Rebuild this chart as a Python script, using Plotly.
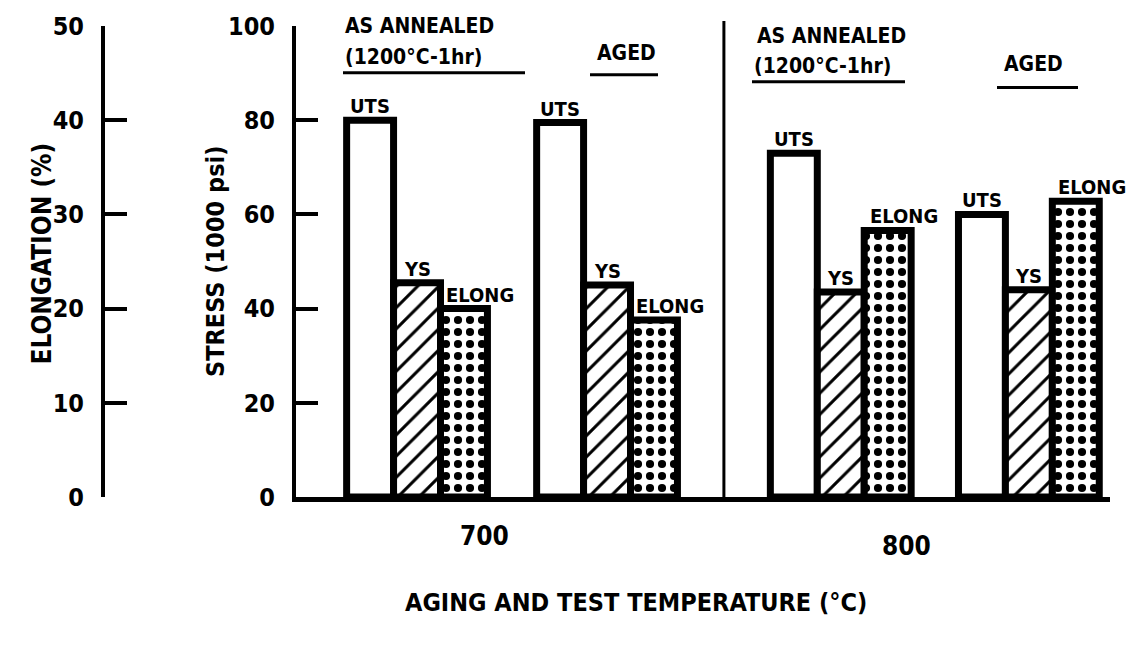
import plotly.graph_objects as go

# ---- data -------------------------------------------------------------
GROUPS = ["700 as annealed", "700 aged", "800 as annealed", "800 aged"]
TEMPS = ["700", "800"]
UTS = [80, 79.5, 73, 60]          # ultimate tensile strength, 1000 psi
YS = [45.5, 45, 43.5, 44]         # yield strength, 1000 psi
ELONG = [20, 18.8, 28.3, 31.4]    # elongation, %
STRESS_TICKS = [0, 20, 40, 60, 80, 100]
ELONG_TICKS = [0, 10, 20, 30, 40, 50]

# ---- layout constants ------------------------------------------------
GROUP_POS = [0.0, 1.0, 2.23, 3.22]   # slot of each group along the temperature axis
BW = 0.247                           # bar width in axis units
W, H = 1127, 650
ML, MR, MT, MB = 100, 17, 23, 153
FONT = "DejaVu Sans Condensed, Liberation Sans Narrow, sans-serif"


def px_x(px):
    return (px - ML) / (W - ML - MR)


def px_y(py):
    return (H - MB - py) / (H - MT - MB)


bar_line = dict(color="black", width=7)
fig = go.Figure()
fig.add_trace(go.Bar(
    x=GROUP_POS, y=UTS, width=BW, offset=-1.5 * BW, name="UTS",
    marker=dict(color="white", line=bar_line, opacity=1), yaxis="y"))
fig.add_trace(go.Bar(
    x=GROUP_POS, y=YS, width=BW, offset=-0.5 * BW, name="YS",
    marker=dict(color="white", line=bar_line, opacity=1,
                pattern=dict(shape="/", fgcolor="black", bgcolor="white",
                             fgopacity=1, size=15, solidity=0.2)),
    yaxis="y"))
fig.add_trace(go.Bar(
    x=GROUP_POS, y=ELONG, width=BW, offset=0.5 * BW, name="ELONG",
    marker=dict(color="white", line=bar_line, opacity=1,
                pattern=dict(shape=".", fgcolor="black", bgcolor="white",
                             fgopacity=1, size=12, solidity=0.36)),
    yaxis="y2"))

annotations = []
# labels over every bar
for i, gp in enumerate(GROUP_POS):
    annotations.append(dict(x=gp - BW, y=UTS[i], xref="x", yref="y", text="UTS",
                            yanchor="bottom", showarrow=False, yshift=0,
                            font=dict(size=20)))
    annotations.append(dict(x=gp, y=YS[i], xref="x", yref="y", text="YS",
                            yanchor="bottom", showarrow=False, yshift=0,
                            font=dict(size=20)))
    annotations.append(dict(x=gp + BW, y=ELONG[i], xref="x", yref="y2", text="ELONG",
                            yanchor="bottom", showarrow=False, yshift=0, xshift=16,
                            font=dict(size=20)))

# temperature labels under each pair of groups
for k, t in enumerate(TEMPS):
    mid = (GROUP_POS[2 * k] + GROUP_POS[2 * k + 1]) / 2
    annotations.append(dict(x=mid, y=px_y(536 + 10 * k), xref="x", yref="paper",
                            text=t, showarrow=False, xshift=-28, yanchor="middle",
                            font=dict(size=26)))

# condition headings
headings = [
    ("AS ANNEALED", 343, 23), ("(1200°C-1hr)", 343, 54), ("AGED", 595, 50),
    ("AS ANNEALED", 755, 33), ("(1200°C-1hr)", 752, 63), ("AGED", 1002, 61),
]
for txt, hx, hy in headings:
    annotations.append(dict(x=px_x(hx), y=px_y(hy), xref="paper", yref="paper",
                            text=txt, showarrow=False, xanchor="left", yanchor="middle",
                            font=dict(size=21)))

# axis titles
annotations.append(dict(x=px_x(25), y=px_y(252), xref="paper", yref="paper",
                        text="ELONGATION (%)", textangle=-90, showarrow=False,
                        font=dict(size=26)))
annotations.append(dict(x=px_x(199), y=px_y(260), xref="paper", yref="paper",
                        text="STRESS (1000 psi)", textangle=-90, showarrow=False,
                        font=dict(size=25)))
annotations.append(dict(x=px_x(636), y=px_y(620), xref="paper", yref="paper",
                        text="AGING AND TEST TEMPERATURE (°C)", showarrow=False,
                        font=dict(size=25)))

shapes = []
# underlines of the headings
for x0, x1, uy in [(343, 525, 70), (590, 658, 72), (752, 905, 79), (997, 1078, 85)]:
    shapes.append(dict(type="line", xref="paper", yref="paper",
                       x0=px_x(x0), x1=px_x(x1), y0=px_y(uy), y1=px_y(uy),
                       line=dict(color="black", width=3)))
# divider between the two test temperatures
div_x = (GROUP_POS[1] + GROUP_POS[2]) / 2
shapes.append(dict(type="line", xref="x", yref="paper", x0=div_x, x1=div_x,
                   y0=0, y1=px_y(18), line=dict(color="black", width=3)))

axis_style = dict(showgrid=False, zeroline=False, showline=True, linecolor="black",
                  linewidth=4, ticks="inside", ticklen=22, tickwidth=4,
                  tickcolor="black", ticklabelstandoff=12,
                  tickfont=dict(size=25, family=FONT, color="black", weight="bold"))

fig.update_layout(
    width=W, height=H,
    margin=dict(l=ML, r=MR, t=MT, b=MB),
    paper_bgcolor="white", plot_bgcolor="white",
    barmode="overlay", showlegend=False,
    font=dict(family=FONT, color="black", weight="bold"),
    xaxis=dict(domain=[px_x(296), 1], range=[-0.637, 3.647], showgrid=False,
               zeroline=False, showline=True, linecolor="black", linewidth=5,
               showticklabels=False, ticks=""),
    yaxis=dict(range=[0, 100], tickvals=STRESS_TICKS, **axis_style),
    yaxis2=dict(range=[0, 50], tickvals=ELONG_TICKS, overlaying="y", anchor="free",
                position=px_x(103), side="left", **axis_style),
    annotations=annotations,
    shapes=shapes,
)

fig.write_html("out.html")
